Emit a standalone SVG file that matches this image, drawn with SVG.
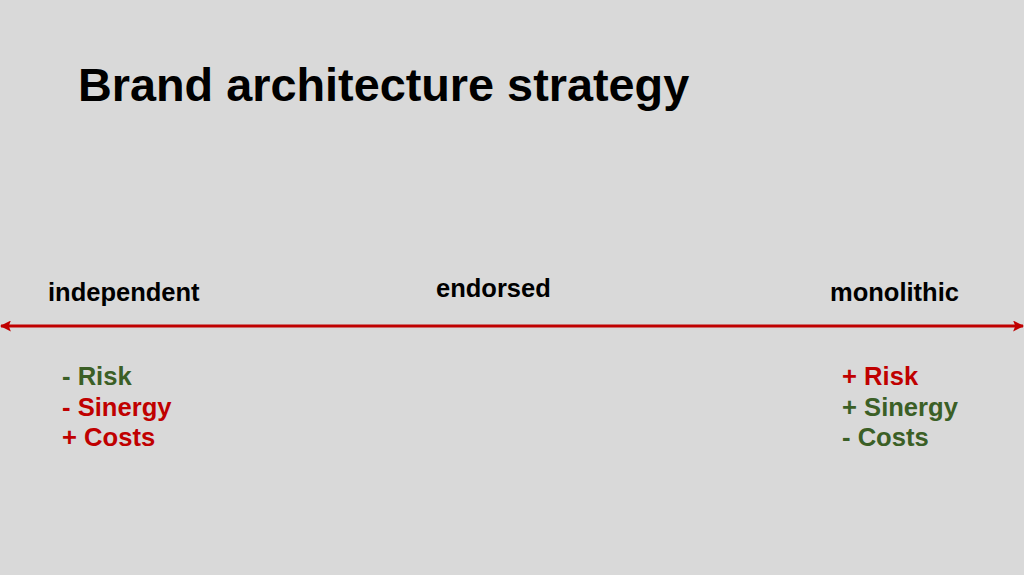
<svg xmlns="http://www.w3.org/2000/svg" width="1024" height="575" viewBox="0 0 1024 575">
<defs>
<style>
text{font-family:"Liberation Sans",Arial,sans-serif;font-weight:bold}
.lbl{font-size:25.5px;fill:#000}
.li{font-size:25.6px}
.r{fill:#c00000}
.g{fill:#3b5f26}
</style>
<marker id="ah" viewBox="0 0 10 10" refX="9" refY="5" markerWidth="11" markerHeight="11" markerUnits="userSpaceOnUse" orient="auto-start-reverse">
<path d="M0,0 L10,5 L0,10 L2,5 Z" fill="#c00000"/>
</marker>
</defs>
<rect width="1024" height="575" fill="#d9d9d9"/>
<text x="78" y="101" font-size="46.8" fill="#000">Brand architecture strategy</text>
<g id="connectors">
<line x1="1" y1="326" x2="1023" y2="326" stroke="#c00000" stroke-width="3" marker-start="url(#ah)" marker-end="url(#ah)"/>
</g>
<g id="independent">
<text class="lbl" x="48" y="301">independent</text>
<text class="li g" x="62" y="385">- Risk</text>
<text class="li r" x="62" y="416">- Sinergy</text>
<text class="li r" x="62" y="446">+ Costs</text>
</g>
<g id="endorsed">
<text class="lbl" x="436" y="297">endorsed</text>
</g>
<g id="monolithic">
<text class="lbl" x="830" y="301">monolithic</text>
<text class="li r" x="842" y="385">+ Risk</text>
<text class="li g" x="842" y="416">+ Sinergy</text>
<text class="li g" x="842" y="446">- Costs</text>
</g>
</svg>
